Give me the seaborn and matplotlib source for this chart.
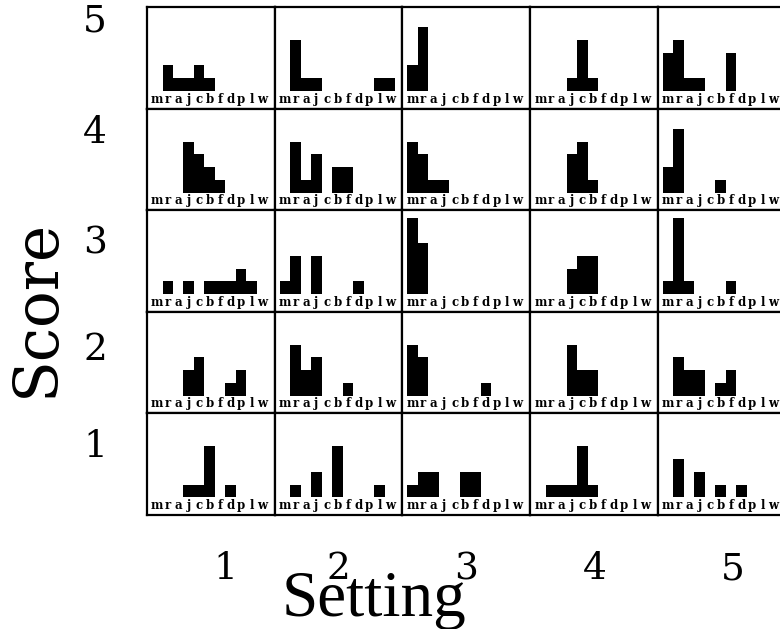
"""Small-multiple bar grid: letter counts by score and setting."""

import matplotlib

matplotlib.use("Agg")

import matplotlib.pyplot as plt
import seaborn as sns

letters = ["m", "r", "a", "j", "c", "b", "f", "d", "p", "l", "w"]
settings = ["1", "2", "3", "4", "5"]
scores = ["5", "4", "3", "2", "1"]

# one list per score row, one entry per setting (1..5), counts per letter
score5 = [
    [0, 2, 1, 1, 2, 1, 0, 0, 0, 0, 0],
    [0, 4, 1, 1, 0, 0, 0, 0, 0, 1, 1],
    [2, 5, 0, 0, 0, 0, 0, 0, 0, 0, 0],
    [0, 0, 0, 1, 4, 1, 0, 0, 0, 0, 0],
    [3, 4, 1, 1, 0, 0, 3, 0, 0, 0, 0],
]
score4 = [
    [0, 0, 0, 4, 3, 2, 1, 0, 0, 0, 0],
    [0, 4, 1, 3, 0, 2, 2, 0, 0, 0, 0],
    [4, 3, 1, 1, 0, 0, 0, 0, 0, 0, 0],
    [0, 0, 0, 3, 4, 1, 0, 0, 0, 0, 0],
    [2, 5, 0, 0, 0, 1, 0, 0, 0, 0, 0],
]
score3 = [
    [0, 1, 0, 1, 0, 1, 1, 1, 2, 1, 0],
    [1, 3, 0, 3, 0, 0, 0, 1, 0, 0, 0],
    [6, 4, 0, 0, 0, 0, 0, 0, 0, 0, 0],
    [0, 0, 0, 2, 3, 3, 0, 0, 0, 0, 0],
    [1, 6, 1, 0, 0, 0, 1, 0, 0, 0, 0],
]
score2 = [
    [0, 0, 0, 2, 3, 0, 0, 1, 2, 0, 0],
    [0, 4, 2, 3, 0, 0, 1, 0, 0, 0, 0],
    [4, 3, 0, 0, 0, 0, 0, 1, 0, 0, 0],
    [0, 0, 0, 4, 2, 2, 0, 0, 0, 0, 0],
    [0, 3, 2, 2, 0, 1, 2, 0, 0, 0, 0],
]
score1 = [
    [0, 0, 0, 1, 1, 4, 0, 1, 0, 0, 0],
    [0, 1, 0, 2, 0, 4, 0, 0, 0, 1, 0],
    [1, 2, 2, 0, 0, 2, 2, 0, 0, 0, 0],
    [0, 1, 1, 1, 4, 1, 0, 0, 0, 0, 0],
    [0, 3, 0, 2, 0, 1, 0, 1, 0, 0, 0],
]
rows = [score5, score4, score3, score2, score1]

sns.set_style("white")

W, H = 780, 629
fig = plt.figure(figsize=(W / 100, H / 100), dpi=100)

grid_left, grid_top = 147, 7
cell_w, cell_h = 127.7, 101.6

axes = fig.subplots(
    5,
    5,
    gridspec_kw=dict(
        left=grid_left / W,
        right=(grid_left + 5 * cell_w) / W,
        top=1 - grid_top / H,
        bottom=1 - (grid_top + 5 * cell_h) / H,
        wspace=0,
        hspace=0,
    ),
)

for i, row in enumerate(rows):
    for j, counts in enumerate(row):
        ax = axes[i, j]
        sns.barplot(
            x=letters,
            y=counts,
            order=letters,
            color="black",
            saturation=1,
            width=1.0,
            linewidth=0,
            ax=ax,
        )
        ax.set_xlim(-0.98, 11.2)
        ax.set_ylim(-1.38, 6.58)
        ax.set_yticks([])
        ax.set_xticks(range(len(letters)))
        ax.set_xticklabels(letters, fontsize=8.5, fontweight="bold",
                           family="DejaVu Serif", color="black")
        ax.tick_params(axis="x", length=0, pad=-11.5)
        ax.set_xlabel("")
        ax.set_ylabel("")
        for spine in ax.spines.values():
            spine.set_visible(True)
            spine.set_color("black")
            spine.set_linewidth(1.6)

# row labels (score), pixel heights of the label centres
row_label_y = [22, 133, 243, 350, 447]
for s, y in zip(scores, row_label_y):
    fig.text(95 / W, 1 - y / H, s, ha="center", va="center", color="black",
             fontsize=27, family="DejaVu Serif")

# column labels (setting), pixel x of the label centres
col_label_x = [225, 338, 466, 595, 733]
for s, x in zip(settings, col_label_x):
    fig.text(x / W, 1 - 569 / H, s, ha="center", va="center", color="black",
             fontsize=27, family="DejaVu Serif")

fig.text(37 / W, 1 - 308 / H, "Score", rotation=90, ha="center", va="center",
         color="black", fontsize=44, family="DejaVu Serif")
fig.text(374 / W, 1 - 616 / H, "Setting", ha="center", va="baseline",
         color="black", fontsize=47, family="Liberation Serif")

fig.savefig("out.png", dpi=100)
plt.close(fig)
